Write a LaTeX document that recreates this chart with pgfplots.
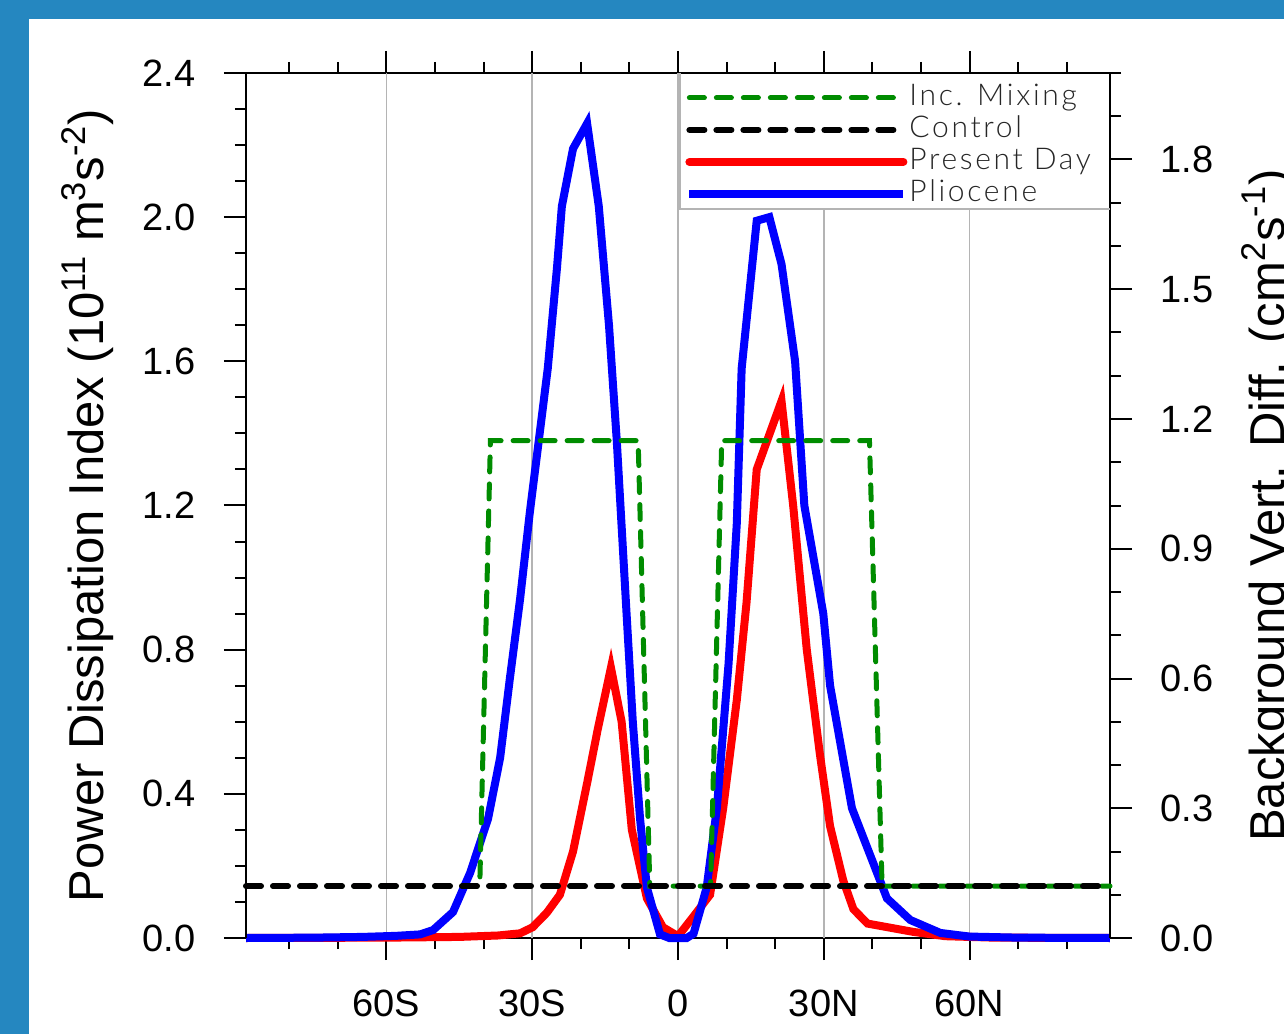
\documentclass[border=0pt]{standalone}
\usepackage{fontspec}
\setmainfont{Liberation Sans}
\newfontfamily\legfont{Lato}[UprightFont={* Light}, LetterSpace=9]
\usepackage{pgfplots}
\usepackage{pgfplotstable}
\pgfplotsset{compat=1.18}
\definecolor{frameblue}{HTML}{2587C0}
\definecolor{gridgray}{HTML}{B4B4B4}
\definecolor{mixgreen}{HTML}{008C00}

% Power dissipation index (left axis)
\pgfplotstableread{
lat val
-88.9 0.000
-75.0 0.001
-65.0 0.003
-58.0 0.006
-53.1 0.010
-50.4 0.022
-46.3 0.072
-42.8 0.18
-39.1 0.33
-36.6 0.50
-34.6 0.72
-32.5 0.94
-30.5 1.18
-26.8 1.58
-24.9 1.86
-23.9 2.03
-21.6 2.19
-18.7 2.26
-16.3 2.03
-14.2 1.70
-12.6 1.38
-10.5 0.88
-9.3 0.60
-7.8 0.33
-6.4 0.14
-3.7 0.010
-1.8 0.000
0.0 0.000
1.8 0.000
3.2 0.012
5.9 0.14
8.0 0.36
10.4 0.76
12.1 1.15
13.1 1.58
16.2 1.99
18.8 2.00
21.3 1.87
24.1 1.60
26.0 1.20
29.9 0.90
31.3 0.70
35.8 0.36
43.0 0.11
47.8 0.050
54.0 0.014
60.0 0.004
70.0 0.001
88.9 0.000
}\pliocene

\pgfplotstableread{
lat val
-88.9 0.000
-60.0 0.001
-45.0 0.003
-37.0 0.007
-32.5 0.013
-29.9 0.030
-27.0 0.070
-24.3 0.12
-21.6 0.24
-18.7 0.43
-16.5 0.58
-13.8 0.75
-11.6 0.60
-9.5 0.30
-6.4 0.11
-3.1 0.030
0.0 0.005
3.2 0.060
6.6 0.12
9.3 0.36
12.1 0.66
14.1 0.93
16.2 1.30
21.3 1.49
23.7 1.20
26.5 0.80
29.2 0.51
31.3 0.31
34.0 0.16
36.1 0.080
39.0 0.040
48.4 0.017
55.0 0.005
65.0 0.001
88.9 0.000
}\presentday

% Background vertical diffusivity (right axis)
\pgfplotstableread{
lat val
-88.9 0.12
-40.8 0.12
-38.6 1.15
-8.2 1.15
-5.8 0.12
6.7 0.12
9.0 1.15
39.4 1.15
42.0 0.12
88.9 0.12
}\incmix

\pgfplotstableread{
lat val
-88.9 0.12
88.9 0.12
}\control

\pgfplotsset{
  base/.style={
    scale only axis, width=432pt, height=432.5pt,
    at={(123pt,48pt)}, anchor=south west,
    xmin=-88.9, xmax=88.9, ymin=0,
    clip=false,
    tick align=outside,
    major tick length=11pt, minor tick length=5.5pt,
    tick style={black, line width=1pt},
    axis line style={black, line width=1pt},
    ticklabel style={font=\fontsize{19}{22}\selectfont, inner sep=0pt},
    /pgf/number format/assume math mode=true,
  },
  dash/.style={dash pattern=on 7.5pt off 6pt, line cap=round},
}

\begin{document}
\begin{tikzpicture}
\fill[frameblue] (0,0) rectangle (642pt,517pt);
\fill[white] (14.5pt,0) rectangle (642pt,507.5pt);

\begin{axis}[base, ymax=2.4,
  xtick={-60,-30,0,30,60},
  xticklabels={60S,30S,0,30N,60N},
  minor xtick={-80,-70,-50,-40,-20,-10,10,20,40,50,70,80},
  xtick pos=both, xticklabel pos=lower,
  xticklabel style={anchor=north}, xticklabel shift=15pt,
  ytick={0,0.4,0.8,1.2,1.6,2.0,2.4},
  minor ytick={0.1,0.2,0.3,0.5,0.6,0.7,0.9,1.0,1.1,1.3,1.4,1.5,1.7,1.8,1.9,2.1,2.2,2.3},
  ytick pos=left,
  yticklabel style={anchor=east, /pgf/number format/.cd, fixed, fixed zerofill, precision=1},
  yticklabel shift=14pt,
  every axis y label/.style={at={(rel axis cs:0,0.5)}, xshift=-71pt, rotate=90, anchor=base,
    font=\fontsize{24.5}{28}\selectfont},
  ylabel={Power Dissipation Index (10\textsuperscript{11} m\textsuperscript{3}s\textsuperscript{-2})},
]
\draw[gridgray, line width=0.75pt] (axis cs:-60,0) -- (axis cs:-60,2.4);
\draw[gridgray, line width=0.75pt] (axis cs:-30,0) -- (axis cs:-30,2.4);
\draw[gridgray, line width=0.75pt] (axis cs:0,0) -- (axis cs:0,2.4);
\draw[gridgray, line width=0.75pt] (axis cs:30,0) -- (axis cs:30,2.02);
\draw[gridgray, line width=0.75pt] (axis cs:60,0) -- (axis cs:60,2.02);
\addplot[red, line width=4pt] table[x=lat, y=val] {\presentday};
\addplot[blue, line width=4pt] table[x=lat, y=val] {\pliocene};
\end{axis}

\begin{axis}[base, ymax=2.0,
  hide x axis,
  ytick={0,0.3,0.6,0.9,1.2,1.5,1.8},
  minor ytick={0.1,0.2,0.4,0.5,0.7,0.8,1.0,1.1,1.3,1.4,1.6,1.7,1.9,2.0},
  ytick pos=right, yticklabel pos=right,
  yticklabel style={anchor=west, /pgf/number format/.cd, fixed, fixed zerofill, precision=1},
  yticklabel shift=14pt,
  every axis y label/.style={at={(rel axis cs:1,0.5)}, xshift=87pt, rotate=90, anchor=base,
    font=\fontsize{24.5}{28}\selectfont},
  ylabel={Background Vert. Diff. (cm\textsuperscript{2}s\textsuperscript{-1})},
  legend style={at={(rel axis cs:0.5023,1)}, anchor=north west, draw=none, fill=none,
    font=\legfont\fontsize{15}{17}\selectfont, text=black!85,
    inner sep=2.5pt, column sep=1pt, row sep=2.5pt, yshift=-3pt,
    nodes={inner sep=0pt, text height=10.5pt, text depth=3pt}},
  legend cell align=left,
  legend image code/.code={\draw[#1] (0pt,0pt) -- (107pt,0pt);},
]
\draw[gridgray, line width=0.75pt] (rel axis cs:0.5023,1) -- (rel axis cs:0.5023,0.8428) -- (rel axis cs:1,0.8428);
\addplot[mixgreen, line width=2.5pt, dash] table[x=lat, y=val] {\incmix};
\addlegendentry{Inc. Mixing}
\addplot[black, line width=3pt, dash] table[x=lat, y=val] {\control};
\addlegendentry{Control}
\addlegendimage{red, line width=4pt, line cap=round}
\addlegendentry{Present Day}
\addlegendimage{blue, line width=4pt}
\addlegendentry{Pliocene}
\end{axis}

\pgfresetboundingbox
\useasboundingbox (0,0) rectangle (642pt,517pt);
\end{tikzpicture}
\end{document}
